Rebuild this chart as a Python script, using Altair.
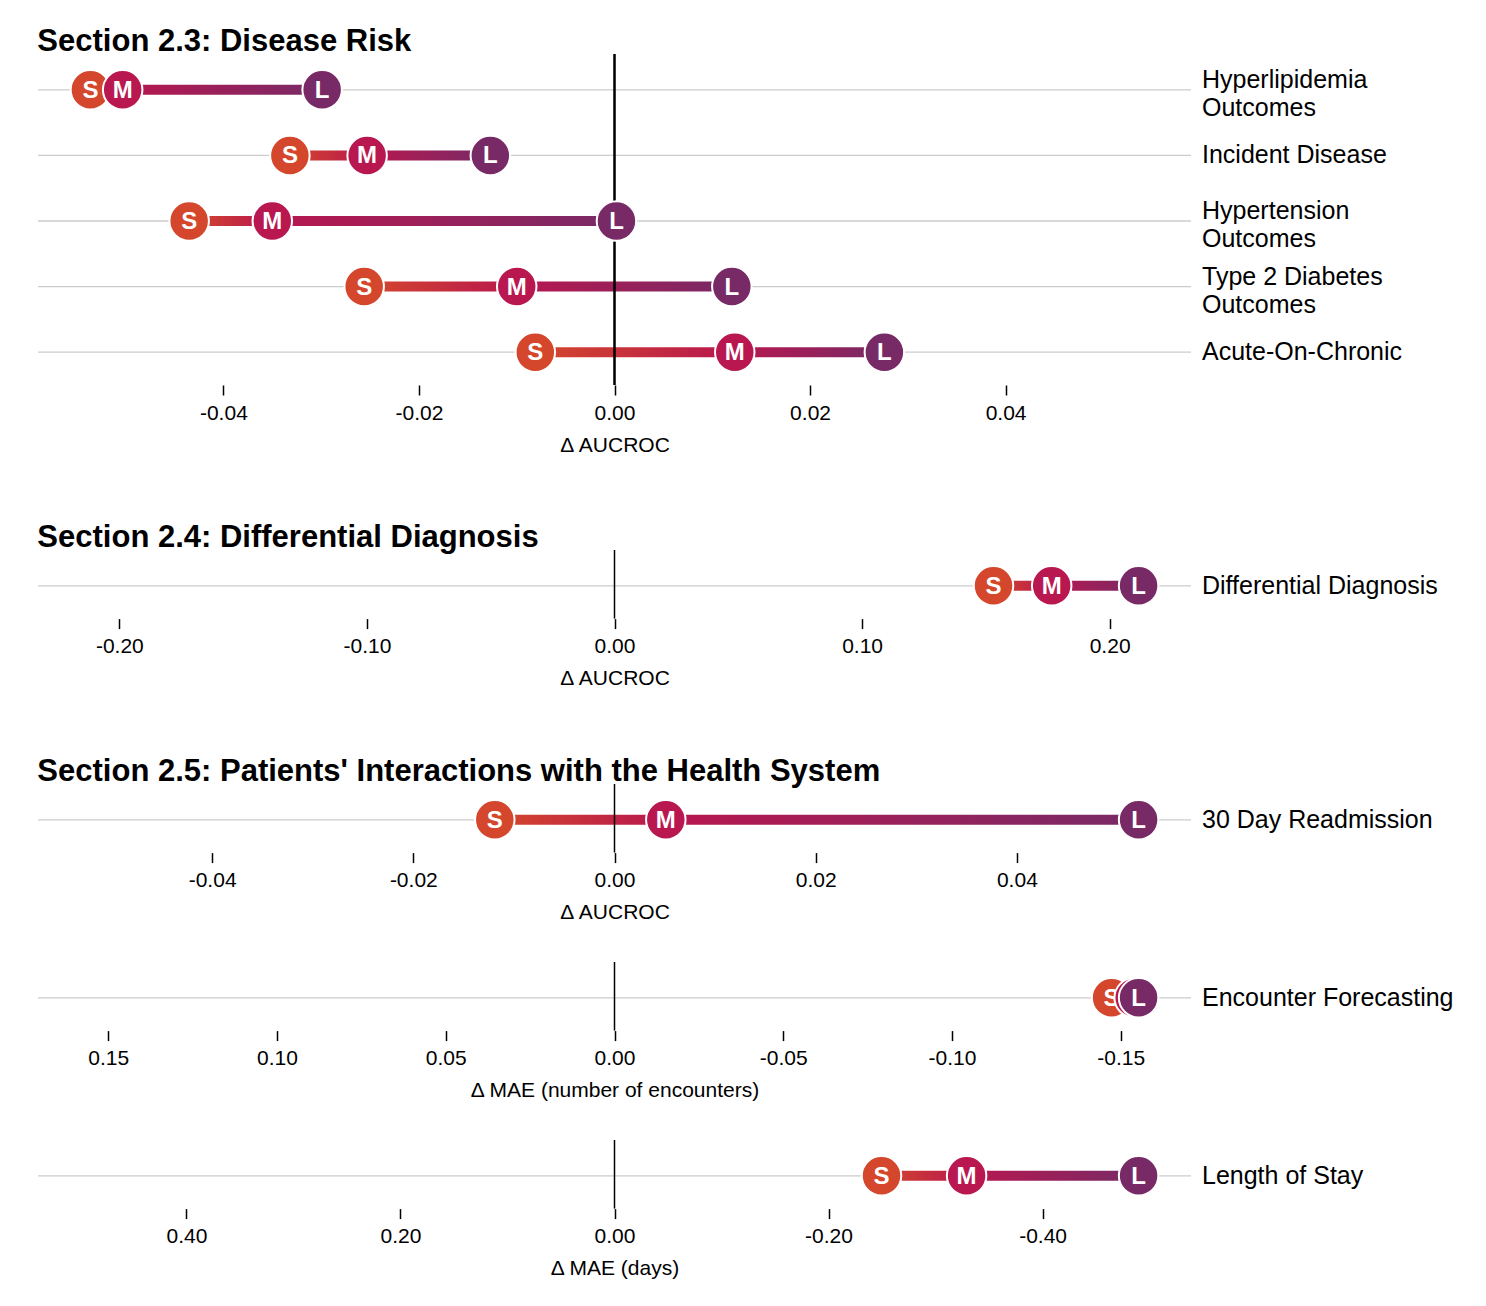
import altair as alt
import pandas as pd

FONT = "Liberation Sans"
SIZES = ["S", "M", "L"]
COLORS = ["#d4472c", "#b8174f", "#782a66"]

# Section 2.3: Disease Risk
dr_tasks = ["Hyperlipidemia|Outcomes", "Incident Disease", "Hypertension|Outcomes",
            "Type 2 Diabetes|Outcomes", "Acute-On-Chronic"]
dr_S = [-0.0536, -0.0332, -0.0435, -0.0256, -0.0081]
dr_M = [-0.0503, -0.0253, -0.0350, -0.0100, 0.0123]
dr_L = [-0.0299, -0.0127, 0.0002, 0.0120, 0.0276]
dr_ticks = [-0.04, -0.02, 0.0, 0.02, 0.04]

# Section 2.4: Differential Diagnosis
dd_tasks = ["Differential Diagnosis"]
dd_S = [0.1531]
dd_M = [0.1766]
dd_L = [0.2117]
dd_ticks = [-0.2, -0.1, 0.0, 0.1, 0.2]

# Section 2.5: 30 Day Readmission
ra_tasks = ["30 Day Readmission"]
ra_S = [-0.0119]
ra_M = [0.0051]
ra_L = [0.0521]
ra_ticks = [-0.04, -0.02, 0.0, 0.02, 0.04]

# Encounter Forecasting
ef_tasks = ["Encounter Forecasting"]
ef_S = [-0.1473]
ef_M = [-0.1540]
ef_L = [-0.1553]
ef_ticks = [0.15, 0.10, 0.05, 0.0, -0.05, -0.10, -0.15]

# Length of Stay
los_tasks = ["Length of Stay"]
los_S = [-0.2495]
los_M = [-0.3290]
los_L = [-0.4897]
los_ticks = [0.4, 0.2, 0.0, -0.2, -0.4]

W = 1153
STEP = 65.6


def grad(c1, c2):
    return alt.LinearGradient(
        gradient="linear",
        stops=[alt.GradientStop(color=c1, offset=0), alt.GradientStop(color=c2, offset=1)],
        x1=0, x2=1, y1=0, y2=0,
    )


def panel(tasks, S, M, L, ticks, title_txt, xtitle, reverse):
    H = STEP * len(tasks)
    parts = [t.split("|") for t in tasks]
    df = pd.DataFrame({
        "task": tasks, "S": S, "M": M, "L": L, "zero": [0.0] * len(tasks),
        "line1": [p[0] for p in parts],
        "line2": [p[1] if len(p) > 1 else "" for p in parts],
        "multi": [len(p) > 1 for p in parts],
    })
    rows = []
    for i, sz in enumerate(SIZES):
        vals = [S, M, L][i]
        for t, v in zip(tasks, vals):
            rows.append({"task": t, "size": sz, "value": v})
    long = pd.DataFrame(rows)
    lim = 1.1 * max(abs(v) for v in S + M + L)
    xs = alt.Scale(domain=[-lim, lim], reverse=reverse, nice=False, zero=False)
    xax = alt.Axis(
        values=ticks, title=xtitle, grid=False, domain=False,
        labelExpr="(datum.value < 0 ? '-' : '') + format(abs(datum.value), '.2f')",
    )
    ys = alt.Scale(domain=tasks, paddingInner=0, paddingOuter=0)
    y = alt.Y("task:N", scale=ys, axis=None, title=None)

    base = alt.Chart(df)
    gridl = base.mark_rule(color="#cccccc", strokeWidth=1.3).encode(
        y=y, x=alt.value(0), x2=alt.value(W))
    bar1 = base.mark_bar(height=10, fill=grad(COLORS[0], COLORS[1])).encode(
        x=alt.X("S:Q", scale=xs, axis=xax), x2="M:Q", y=y)
    bar2 = base.mark_bar(height=10, fill=grad(COLORS[1], COLORS[2])).encode(
        x=alt.X("M:Q", scale=xs, axis=xax), x2="L:Q", y=y)
    zero = base.mark_rule(color="black", strokeWidth=1.5).encode(
        x=alt.X("zero:Q", scale=xs, axis=xax), y=alt.value(-3), y2=alt.value(H))
    lab_kw = dict(align="left", baseline="middle", font=FONT, fontSize=25, color="black")
    lab_single = base.transform_filter("!datum.multi").mark_text(**lab_kw).encode(
        x=alt.value(W + 11), y=y, text="line1:N")
    lab_first = base.transform_filter("datum.multi").mark_text(dy=-10, **lab_kw).encode(
        x=alt.value(W + 11), y=y, text="line1:N")
    lab_second = base.transform_filter("datum.multi").mark_text(dy=18, **lab_kw).encode(
        x=alt.value(W + 11), y=y, text="line2:N")
    layers = [gridl, bar1, bar2, zero]
    lbase = alt.Chart(long)
    for i, sz in enumerate(SIZES):
        circ = lbase.transform_filter(alt.datum.size == sz).mark_circle(
            size=1560, opacity=1, color=COLORS[i], stroke="white", strokeWidth=2
        ).encode(x=alt.X("value:Q", scale=xs, axis=xax), y=y)
        txt = lbase.transform_filter(alt.datum.size == sz).mark_text(
            color="white", font=FONT, fontWeight="bold", fontSize=24, dy=1
        ).encode(x=alt.X("value:Q", scale=xs, axis=xax), y=y, text="size:N")
        layers += [circ, txt]
    layers += [lab_single, lab_first, lab_second]
    props = dict(width=W, height=H)
    if title_txt:
        props["title"] = alt.TitleParams(title_txt, anchor="start", fontSize=31,
                                         fontWeight="bold", font=FONT, color="black",
                                         offset=-5)
    return alt.layer(*layers).properties(**props)


p1 = panel(dr_tasks, dr_S, dr_M, dr_L, dr_ticks, "Section 2.3: Disease Risk", "Δ AUCROC", False)
p2 = panel(dd_tasks, dd_S, dd_M, dd_L, dd_ticks, "Section 2.4: Differential Diagnosis", "Δ AUCROC", False)
p3 = panel(ra_tasks, ra_S, ra_M, ra_L, ra_ticks,
           "Section 2.5: Patients' Interactions with the Health System", "Δ AUCROC", False)
p4 = panel(ef_tasks, ef_S, ef_M, ef_L, ef_ticks, None, "Δ MAE (number of encounters)", True)
p5 = panel(los_tasks, los_S, los_M, los_L, los_ticks, None, "Δ MAE (days)", True)

inner = alt.vconcat(p3, p4, p5, spacing=38)
chart = alt.vconcat(p1, p2, inner, spacing=67).properties(
    padding={"left": 29, "top": 18, "right": 5, "bottom": 5}
).configure_view(stroke=None).configure_axis(
    labelFont=FONT, titleFont=FONT, labelFontSize=21, titleFontSize=21,
    labelColor="black", titleColor="black", titleFontWeight="normal",
    tickColor="black", tickSize=10, tickWidth=1.5, labelPadding=7, titlePadding=11,
)

chart.save("out.html", embed_options={"renderer": "svg", "actions": False})
